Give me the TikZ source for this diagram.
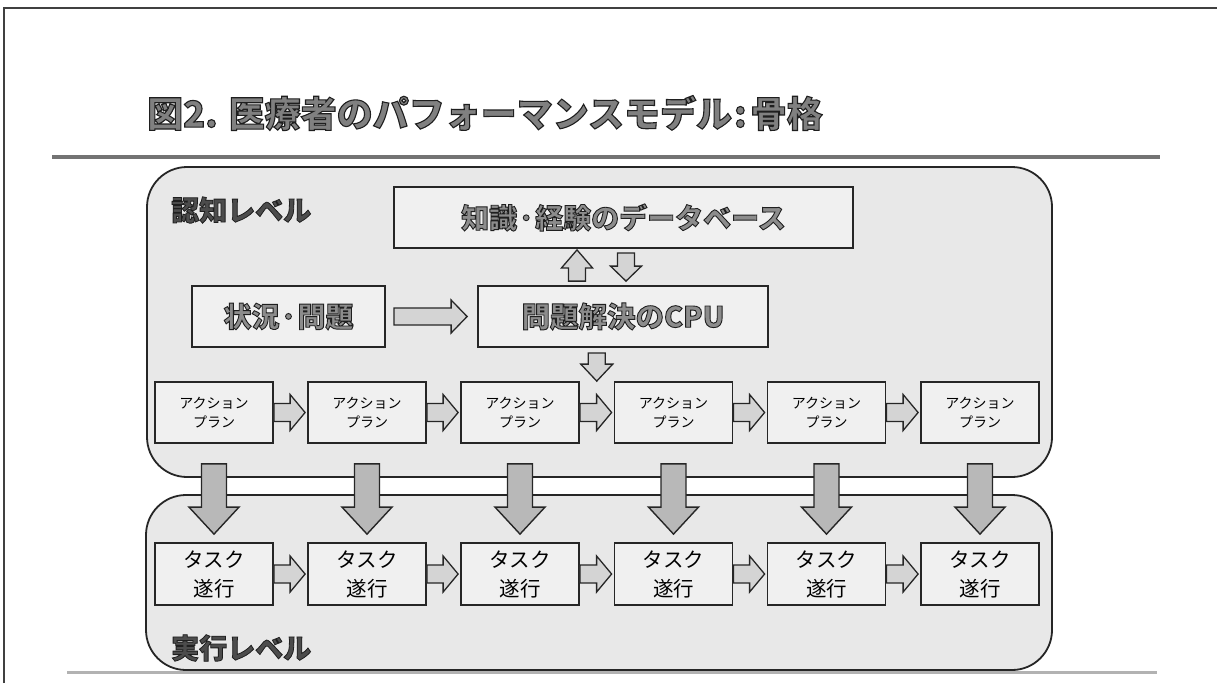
\documentclass[tikz,border=0pt]{standalone}
\usepackage{fontspec}
\newfontfamily\jp{Noto Sans CJK JP}
\usetikzlibrary{calc}
% outlined text: fill colour #1, stroke width #2, text #3
\newcommand{\olt}[3]{{\color{#1}\special{pdf:literal direct 2 Tr #2 w 0.12 0.12 0.12 RG}#3\special{pdf:literal direct 0 Tr}}}
% block arrows
\newcommand{\rarr}[6][barrow]{\draw[#1] let \p1=#2, \p2=#3 in
  (\x1,\y1+#4) -- (\x2-#6,\y1+#4) -- (\x2-#6,\y1+#5) -- (\x2,\y1) -- (\x2-#6,\y1-#5) -- (\x2-#6,\y1-#4) -- (\x1,\y1-#4) -- cycle;}
\newcommand{\darr}[6][barrow]{\draw[#1] let \p1=#2, \p2=#3 in
  (\x1-#4,\y1) -- (\x1-#4,\y2+#6) -- (\x1-#5,\y2+#6) -- (\x1,\y2) -- (\x1+#5,\y2+#6) -- (\x1+#4,\y2+#6) -- (\x1+#4,\y1) -- cycle;}
\newcommand{\uarr}[6][barrow]{\draw[#1] let \p1=#2, \p2=#3 in
  (\x1-#4,\y1) -- (\x1-#4,\y2-#6) -- (\x1-#5,\y2-#6) -- (\x1,\y2) -- (\x1+#5,\y2-#6) -- (\x1+#4,\y2-#6) -- (\x1+#4,\y1) -- cycle;}
\begin{document}
\begin{tikzpicture}[x=1pt,y=-1pt,
  container/.style={draw=black!85, line width=1.8pt, fill=black!9, rounded corners=40pt, inner sep=0pt},
  ibox/.style={draw=black!85, line width=1.8pt, fill=black!6, inner sep=0pt},
  abox/.style={ibox, minimum width=118pt, minimum height=61pt, align=center, font=\jp\fontsize{14}{19}\selectfont},
  tbox/.style={ibox, minimum width=118pt, minimum height=62pt, align=center, font=\jp\fontsize{20.5}{29}\selectfont},
  bigbox/.style={ibox, minimum height=61pt, font=\jp\bfseries\fontsize{28}{30}\selectfont},
  heading/.style={anchor=west, inner sep=0pt, font=\jp\bfseries\fontsize{28}{30}\selectfont},
  barrow/.style={draw=black!85, line width=1.3pt, fill=black!17, line join=miter},
  bigarrow/.style={draw=black!85, line width=1.4pt, fill=black!28, line join=miter}]
\useasboundingbox (0,0) rectangle (1217,683);
\fill[white] (0,0) rectangle (1217,683);
% slide frame
\draw[black!75, line width=1.2pt] (4,683) -- (4,8) -- (1217,8);
% title
\node[anchor=west, inner sep=0pt, font=\jp\bfseries\fontsize{36}{40}\selectfont] (title) at (147,113)
  {\olt{black!50}{1.1}{図2. 医療者のパフォーマンスモデル\kern2pt:\kern4pt 骨格}};
\draw[black!55, line width=4pt] (52,157) -- (1160,157);
\draw[black!30, line width=3pt] (67,672) -- (1157,672);
% containers
\node[container, minimum width=905pt, minimum height=310pt] (cog) at (599.5,322) {};
\node[container, minimum width=906pt, minimum height=175pt] (exe) at (599,582.5) {};
\node[heading] (cogl) at (171,210) {\olt{black!70}{0.8}{認知レベル}};
\node[heading] (exel) at (171,648) {\olt{black!70}{0.8}{実行レベル}};
% upper boxes
\node[bigbox, minimum width=459pt] (db) at (623.5,217.5) {\olt{black!45}{0.9}{知識\kern2pt･\kern2pt 経験のデータベース}};
\node[bigbox, minimum width=193pt] (sit) at (288.5,316.5) {\olt{black!45}{0.9}{状況\kern2pt･\kern2pt 問題}};
\node[bigbox, minimum width=290pt, font=\jp\bfseries\fontsize{28.5}{30}\selectfont] (cpu) at (623,316.5) {\olt{black!45}{0.9}{問題解決のCPU}};
% action and task boxes
\foreach \i/\x in {1/214,2/367,3/520,4/673.5,5/826.5,6/980}{
  \node[abox] (a\i) at (\x,412.5) {アクション\\プラン};
  \node[tbox] (t\i) at (\x,574) {タスク\\遂行};
}
% horizontal small arrows
\foreach \i/\j in {1/2,2/3,3/4,4/5,5/6}{
  \rarr{(a\i.east)}{($(a\j.west)+(-2,0)$)}{9pt}{18pt}{15pt}
  \rarr{(t\i.east)}{($(t\j.west)+(-2,0)$)}{9pt}{18pt}{15pt}
}
% big down arrows
\foreach \i in {1,...,6}{
  \darr[bigarrow]{($(a\i.south)+(0,20)$)}{($(t\i.north)+(0,-8)$)}{12.5pt}{25pt}{27pt}
}
% situation -> CPU
\rarr{($(sit.east)+(8,0)$)}{($(cpu.west)+(-10,0)$)}{8.5pt}{16.5pt}{16pt}
% CPU <-> database
\coordinate (u1) at ($(cpu.north)+(-46,-4)$);
\coordinate (u2) at ($(u1 |- db.south)+(0,1)$);
\uarr{(u1)}{(u2)}{8.5pt}{15.5pt}{18pt}
\coordinate (d1) at ($(db.south)+(2.5,4)$);
\coordinate (d2) at ($(d1 |- cpu.north)+(0,-4)$);
\darr{(d1)}{(d2)}{8.5pt}{15.5pt}{15pt}
% CPU -> action row
\coordinate (g) at ($(a3.north east)!0.5!(a4.north west)$);
\coordinate (g1) at ($(g |- cpu.south)+(0,5)$);
\darr{(g1)}{(g)}{8.5pt}{16pt}{17pt}
\end{tikzpicture}
\end{document}
